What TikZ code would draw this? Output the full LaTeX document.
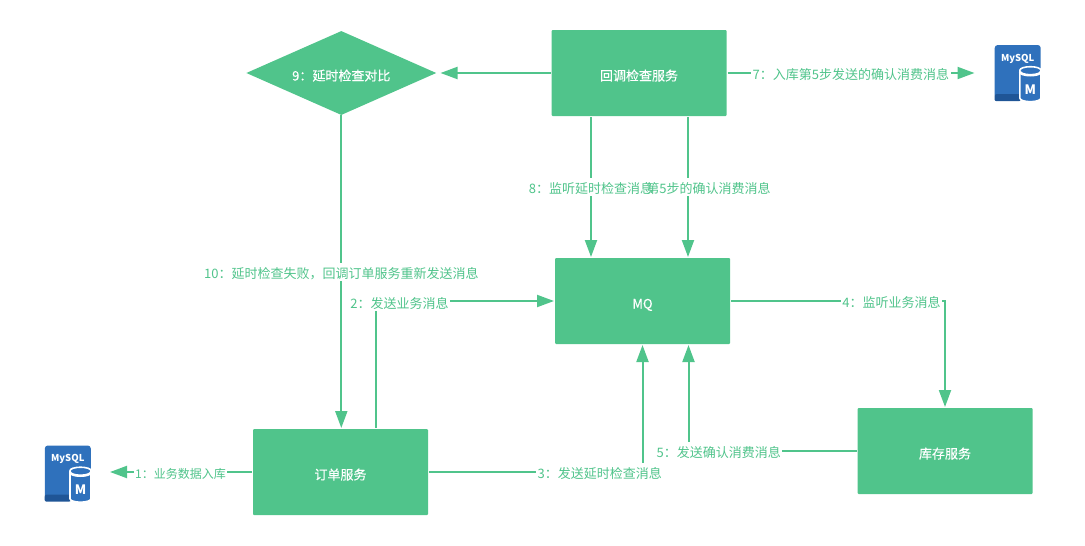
\documentclass[tikz,border=0pt]{standalone}
\usepackage{fontspec}
\setmainfont{Noto Sans CJK SC}
\newfontfamily\boxfont[FakeBold=0.4]{Noto Sans CJK SC}
\definecolor{FlowGreen}{HTML}{50C48B}
\definecolor{DbBlue}{HTML}{2F71BC}
\definecolor{DbShade}{HTML}{1F5596}
\usetikzlibrary{arrows.meta,positioning,shapes.geometric}
\newcommand{\dbcan}[1]{
\fill[DbShade,rounded corners=2pt] ([yshift=-3pt]#1.south west) rectangle ([xshift=-20pt,yshift=4pt]#1.south east);
\draw[white,fill=DbBlue,line width=1.6pt] ([xshift=-21pt,yshift=28pt]#1.south east) -- ++(0,28) arc[start angle=180,end angle=360,x radius=10.5pt,y radius=3.5pt] -- ++(0,-28) arc[start angle=0,end angle=180,x radius=10.5pt,y radius=3.5pt];
\draw[white,line width=2.6pt] ([xshift=-21pt,yshift=26.5pt]#1.south east) arc[start angle=180,end angle=360,x radius=10.5pt,y radius=3.5pt];
\node[font=\bfseries\fontsize{13}{13}\selectfont,text=white,inner sep=0pt] (#1m) at ([xshift=-10.5pt,yshift=9pt]#1.south east) {M};
}

\begin{document}
\begin{tikzpicture}[
x=1pt,y=-1pt,
box/.style={fill=FlowGreen,rounded corners=1pt,align=center,minimum width=175pt,minimum height=86pt,inner sep=0pt,outer sep=1pt,text=white,text height=16pt,text depth=1pt,font=\boxfont\fontsize{13}{15}\selectfont},
decision/.style={diamond,aspect=2.26,fill=FlowGreen,minimum width=190pt,minimum height=84pt,inner sep=0pt,text=white,text height=16pt,text depth=1pt,font=\boxfont\fontsize{13}{15}\selectfont},
dbicon/.style={fill=DbBlue,rounded corners=3pt,minimum width=46pt,minimum height=53pt,inner sep=0pt,text=white,font=\bfseries\fontsize{9.5}{10}\selectfont},
arrow/.style={-{Triangle[length=17pt,width=12pt]},line width=2pt,draw=FlowGreen},
msg/.style={fill=white,inner sep=1.5pt,text=FlowGreen,text height=14pt,text depth=1pt,font=\fontsize{13}{15}\selectfont}
]
\useasboundingbox (0,0) rectangle (1085,546);

\node[box] (mq) at (642.5,301) {MQ};
\node[box,above=140pt of mq,xshift=-3.5pt] (callback) {回调检查服务};
\node[box,below left=83pt and 125pt of mq] (order) {订单服务};
\node[box,below right=62pt and 125.5pt of mq] (stock) {库存服务};
\node[decision,left=114pt of callback] (check) {9：延时检查对比};
\node[dbicon,right=267pt of callback,yshift=1.5pt] (dbtop) {\raisebox{28pt}{MySQL}};
\node[dbicon,left=161pt of order] (dbleft) {\raisebox{28pt}{MySQL}};
\dbcan{dbtop}
\dbcan{dbleft}

\draw[arrow,shorten >=19pt] (order.west) -- node[msg,pos=.444,font=\fontsize{12}{15}\selectfont] (l1) {1：业务数据入库} (dbleft.east);
\draw[arrow] ([xshift=35pt]order.north) |- node[msg,pos=.5675,yshift=-1pt] (l2) {2：发送业务消息} (mq.west);
\draw[arrow] (order.east) -| node[msg,pos=.4] (l3) {3：发送延时检查消息} (mq.south);
\draw[arrow] (mq.east) -| node[msg,pos=.375] (l4) {4：监听业务消息} (stock.north);
\draw[arrow] (stock.west) -| node[msg,pos=.41] (l5) {5：发送确认消费消息} ([xshift=46pt]mq.south);
\draw[arrow,shorten >=20pt] (callback.east) -- node[msg,pos=.462] (l7) {7：入库第5步发送的确认消费消息} (dbtop.west |- callback.east);
\draw[arrow] ([xshift=-48pt]callback.south) -- node[msg] (l8a) {8：监听延时检查消息} ([xshift=-51.5pt]mq.north);
\draw[arrow] ([xshift=49pt]callback.south) -- node[msg,xshift=27pt] (l8b) {\llap{第}5步的确认消费消息} ([xshift=45.5pt]mq.north);
\draw[arrow,shorten >=4pt] (callback.west) -- (check.east);
\draw[arrow] (check.south) -- node[msg,pos=.5,yshift=-.5pt] (l10) {10：延时检查失败，回调订单服务重新发送消息} (check.south |- order.north);
\end{tikzpicture}
\end{document}
